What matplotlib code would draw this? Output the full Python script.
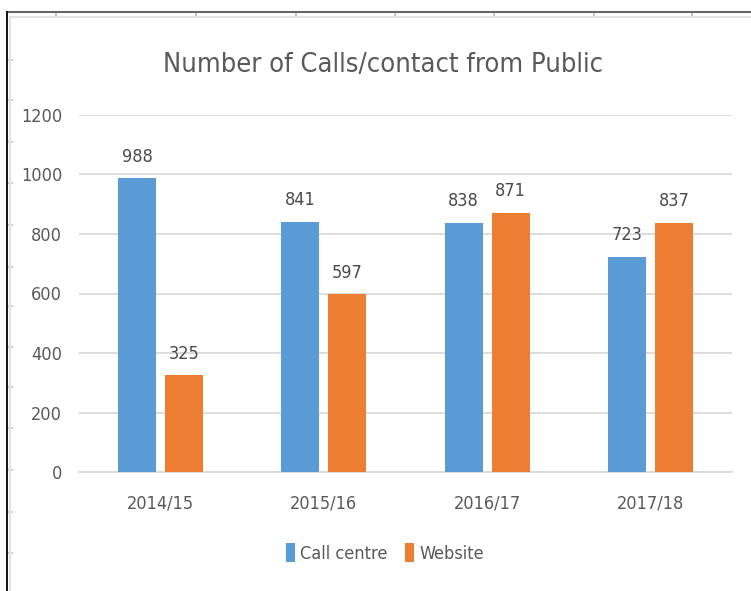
import numpy as np
import matplotlib
matplotlib.use("Agg")
import matplotlib.pyplot as plt
from matplotlib.lines import Line2D

plt.rcParams["font.family"] = ["DejaVu Sans"]
plt.rcParams["font.stretch"] = "condensed"

years = ["2014/15", "2015/16", "2016/17", "2017/18"]
call_centre = [988, 841, 838, 723]
website = [325, 597, 871, 837]
y_ticks = [0, 200, 400, 600, 800, 1000, 1200]

# spreadsheet cell lines peeking around the chart frame (pixels)
col_lines = [56, 196, 296, 395, 494, 594, 692]
row_lines = [60, 100, 142, 183, 225, 267, 306, 347, 387, 428, 470, 512, 553]

W, H = 751, 591
TEXT = "#595959"
BLUE = "#5B9BD5"
ORANGE = "#ED7D31"
GRID = "#D9D9D9"


def px(x, y):
    return x / W, 1 - y / H


fig = plt.figure(figsize=(W / 100, H / 100), dpi=100)
fig.patch.set_facecolor("white")

ax = fig.add_axes([79 / W, 1 - 472 / H, 653 / W, 357 / H])
x = np.arange(len(years))
bw = 0.233
off = 0.144
b1 = ax.bar(x - off, call_centre, bw, color=BLUE, label="Call centre", zorder=3)
b2 = ax.bar(x + off, website, bw, color=ORANGE, label="Website", zorder=3)

ax.bar_label(b1, padding=9, fontsize=13, color="#4A4A4A")
ax.bar_label(b2, padding=9, fontsize=13, color="#4A4A4A")

ax.set_xlim(-0.5, len(years) - 0.5)
ax.set_ylim(0, 1200)
ax.set_yticks(y_ticks)
ax.set_xticks(x)
ax.set_xticklabels(years)
ax.yaxis.grid(True, color=GRID, linewidth=1.3, zorder=0)
ax.tick_params(axis="both", length=0, labelsize=13, labelcolor=TEXT)
ax.tick_params(axis="y", pad=12)
ax.tick_params(axis="x", pad=16)
for side in ["top", "right", "left"]:
    ax.spines[side].set_visible(False)
ax.spines["bottom"].set_color(GRID)
ax.spines["bottom"].set_linewidth(1.3)

fig.text(*px(383, 65), "Number of Calls/contact from Public", fontsize=19.5,
         color=TEXT, ha="center", va="center")

fig.legend(handles=[b1, b2], labels=["Call centre", "Website"], loc="center",
           bbox_to_anchor=px(385, 553), ncol=2, frameon=False, fontsize=13,
           labelcolor=TEXT, handlelength=0.5, handleheight=1.2,
           handletextpad=0.3, columnspacing=1.0)

# frame and cell grid around the chart
for cx in col_lines:
    fig.add_artist(Line2D([cx / W, cx / W], [1 - 12 / H, 1 - 17 / H],
                          color="#C8C8C8", lw=1.5))
for ry in row_lines:
    fig.add_artist(Line2D([7 / W, 12 / W], [1 - ry / H, 1 - ry / H],
                          color="#D0D0D0", lw=1.5))
fig.add_artist(Line2D([10 / W, 1], [1 - 17 / H, 1 - 17 / H], color="#E3E3E3", lw=1.5))
fig.add_artist(Line2D([10 / W, 10 / W], [1 - 17 / H, 0], color="#E3E3E3", lw=1.5))
fig.add_artist(Line2D([7 / W, 1], [1 - 12 / H, 1 - 12 / H], color="#666666", lw=1.5))
fig.add_artist(Line2D([7 / W, 7 / W], [1 - 12 / H, 0], color="#111111", lw=1.4))

fig.savefig("out.png", dpi=100, facecolor="white")
